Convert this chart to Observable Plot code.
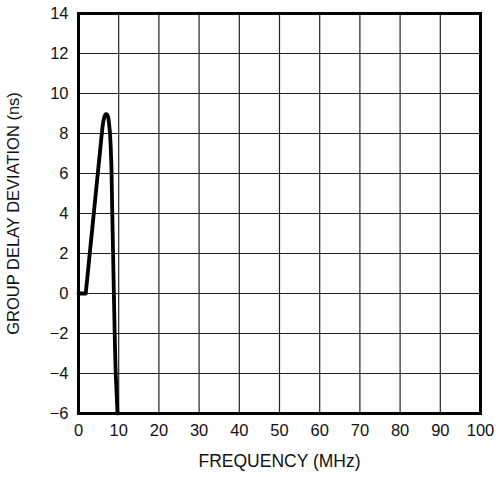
<!DOCTYPE html>
<html>
<head>
<meta charset="utf-8">
<script src="https://cdn.jsdelivr.net/npm/d3@7"></script>
<script src="https://cdn.jsdelivr.net/npm/@observablehq/plot@0.6"></script>
<style>
  html, body { margin: 0; padding: 0; background: #fff; }
</style>
</head>
<body>
<div id="chart"></div>
<script>
const freq  = [0, 1.8, 3.8, 5.9, 6.2, 6.5, 6.8, 7.1, 7.4, 7.6, 7.8, 8.0, 8.2, 8.4, 8.6, 8.8, 9.0, 9.25, 9.4, 9.7];
const delay = [0, 0,   4,   8.2, 8.65, 8.88, 8.97, 8.95, 8.8, 8.5, 8.1, 7.4, 6.3, 4, 2, 0, -2, -4, -4.6, -6];
const xTicks = [0, 10, 20, 30, 40, 50, 60, 70, 80, 90, 100];
const yTicks = [-6, -4, -2, 0, 2, 4, 6, 8, 10, 12, 14];
const xLabel = "FREQUENCY (MHz)";
const yLabel = "GROUP DELAY DEVIATION (ns)";

const data = freq.map((f, i) => ({f, d: delay[i]}));

const chart = Plot.plot({
  width: 496,
  height: 477,
  marginLeft: 78,
  marginRight: 16,
  marginTop: 13,
  marginBottom: 64,
  style: {fontFamily: "'Liberation Sans', Arial, Helvetica, sans-serif", fontSize: "16.5px", color: "#111", background: "#fff"},
  x: {domain: [0, 100]},
  y: {domain: [-6, 14]},
  marks: [
    Plot.ruleX(xTicks, {stroke: "#222", strokeWidth: 1.2}),
    Plot.ruleY(yTicks, {stroke: "#222", strokeWidth: 1.2}),
    Plot.line(data, {x: "f", y: "d", stroke: "#000", strokeWidth: 3.8, curve: "linear", strokeLinejoin: "round"}),
    Plot.frame({stroke: "#000", strokeWidth: 3}),
    Plot.axisX({ticks: xTicks, tickSize: 0, tickPadding: 11, label: null, tickFormat: d => String(d)}),
    Plot.text([xLabel], {text: d => d, frameAnchor: "bottom", dy: 53, fontSize: 17.5, fill: "#111"}),
    Plot.axisY({ticks: yTicks, tickSize: 0, tickPadding: 10, label: yLabel, labelAnchor: "center", labelArrow: "none", labelOffset: 71, tickFormat: d => d < 0 ? "\u2212" + Math.abs(d) : String(d)})
  ]
});
document.getElementById("chart").appendChild(chart);
</script>
</body>
</html>
